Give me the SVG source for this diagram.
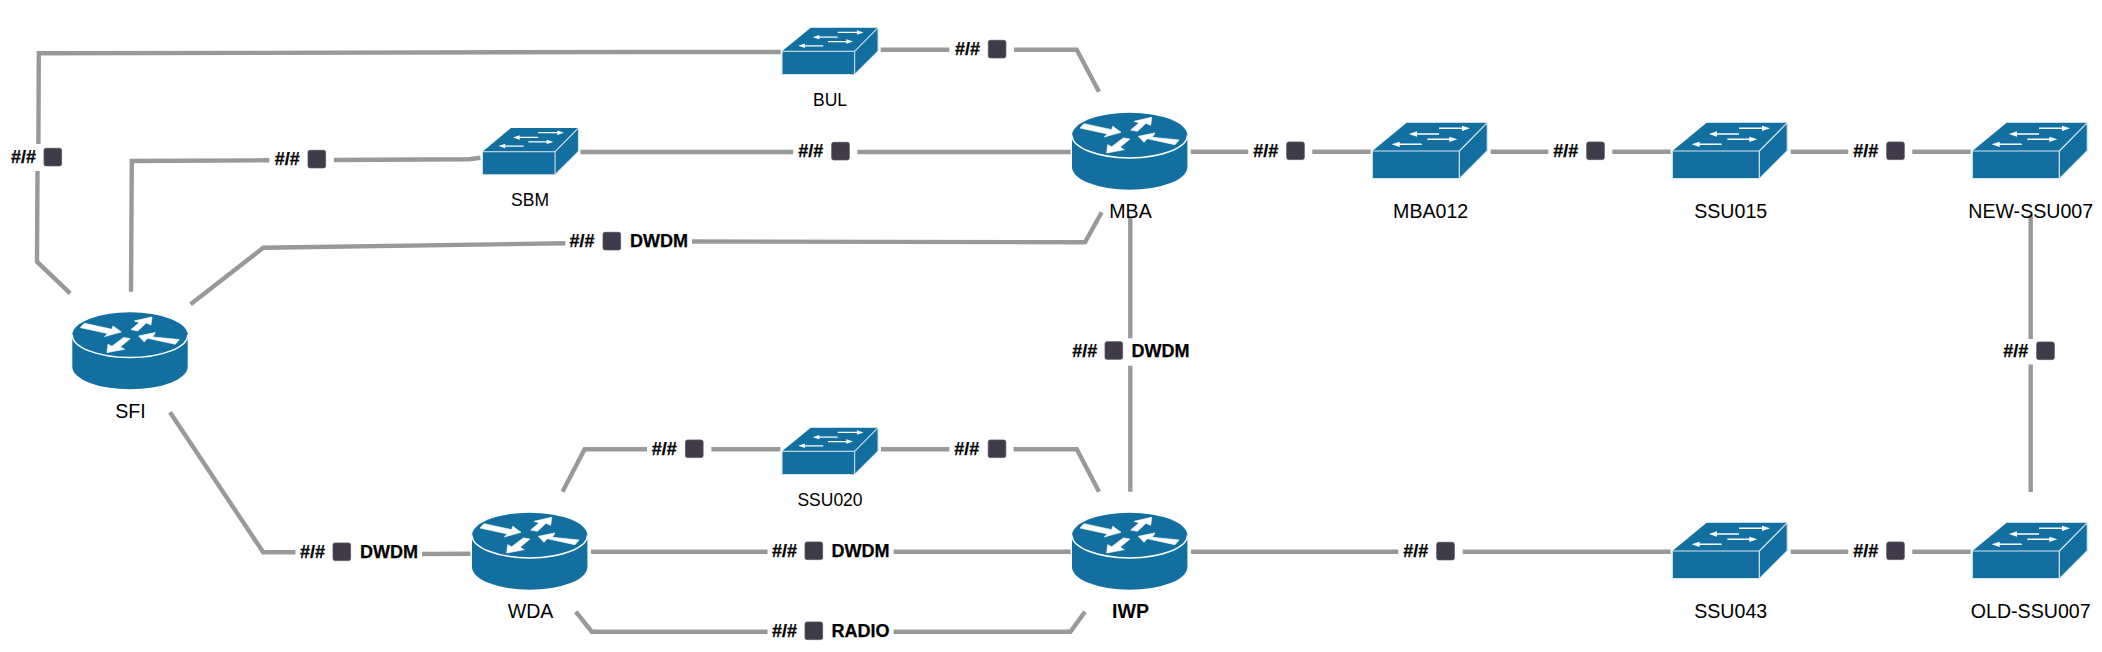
<svg xmlns="http://www.w3.org/2000/svg" xmlns:xlink="http://www.w3.org/1999/xlink" width="2102" height="652" viewBox="0 0 2102 652">
<style>
text{font-family:"Liberation Sans",Arial,sans-serif;fill:#000}
.n{font-size:19.6px;text-anchor:middle}
.s{font-size:17.5px;text-anchor:middle}
.b{font-weight:700}
.l{font-size:18px;font-weight:700;stroke:#000;stroke-width:.25}
#connectors path{fill:none;stroke:#999;stroke-width:4.4}
.sq{fill:#3f3b4a;stroke:#55515e;stroke-width:.8}
.body{fill:#126f9f}
.edge{fill:none;stroke:#d6e6ef;stroke-width:3.6}
.rim{fill:none;stroke:#fff;stroke-width:1.5}
.ar{fill:#fff;stroke:#fff;stroke-width:2;stroke-linejoin:round}
.ah{fill:#fff;stroke:none}
.al{fill:none;stroke:#fff;stroke-width:4.5}
</style>
<defs>
<g id="router">
<path class="body" d="M0 22.6A57.7 22.6 0 0 1 115.4 22.6V54.4A57.7 22.6 0 0 1 0 54.4Z"/>
<path class="rim" d="M0 22.6A57.7 22.6 0 0 0 115.4 22.6"/>
<g transform="translate(-7,-4.7) scale(.3333)">
<path class="ar" d="M45 60L57 47L140 65L143 55L168 73L118 87L127 78Z"/>
<path class="ar" d="M197 66L222 45L207 40L260 28L257 52L243 46L217 70Z"/>
<path class="ar" d="M342 96L330 110L247 92L237 103L220 85L270 75L262 88Z"/>
<path class="ar" d="M175 90L195 93L165 118L178 125L125 135L128 110L140 116Z"/>
</g>
</g>
<g id="switch">
<g transform="translate(-32.3,-12.7) scale(.3333)">
<path class="body" d="M200 38H442L358 123H97Z"/>
<path class="body" d="M442 38V122L358 206V123Z"/>
<rect class="body" x="97" y="123" width="261" height="83"/>
<path class="edge" d="M97 123H358V206H97ZM358 123L442 38M358 206L442 122V38"/>
<path class="al" d="M297 55H372M297 72H225M262 88H334M245 103H173"/>
<path class="ah" d="M390 55L366 47V63ZM207 72L231 64V80ZM352 88L328 80V96ZM155 103L179 95V111Z"/>
</g>
</g>
</defs>
<rect width="2102" height="652" fill="#fff"/>
<g id="connectors">
<path id="c-sfi-bul" d="M70.2 293.3L37 261.7L37.5 171M38.4 144L38.8 53.3L640 52L780.7 52"/>
<path id="c-bul-mba" d="M880.7 49.7H949.3M1014 49.7H1076.7L1099 91.7"/>
<path id="c-sfi-sbm" d="M131 291.7L131.8 161L269.4 160.3M333.9 160L469.4 159.3L480.4 157.7"/>
<path id="c-sbm-mba" d="M580.4 152H793.3M857.3 152H1070.7"/>
<path id="c-mba-mba012" d="M1190.7 151.7H1248.3M1312.3 151.7H1370.7"/>
<path id="c-mba012-ssu015" d="M1490.7 151.7H1548.3M1612.3 151.7H1670.7"/>
<path id="c-ssu015-new" d="M1790.7 151.7H1848.3M1912.3 151.7H1970.7"/>
<path id="c-sfi-mba" d="M190.6 304.3L263.3 247.7L565.3 243.3M692 241.5L1085 242.3L1101.7 212.3"/>
<path id="c-mba-iwp" d="M1130.3 218V338.3M1130.3 365.7V491.7"/>
<path id="c-sfi-wda" d="M170 412.3L263.2 552.3H295.4M422 554L470.4 553.7"/>
<path id="c-wda-ssu020" d="M562.5 491.7L584.6 449.3H647M711.4 449.3H780.4"/>
<path id="c-ssu020-iwp" d="M881 449.3H949.3M1013.6 449.3H1076.8L1099 491.7"/>
<path id="c-wda-iwp" d="M591 551.7H767.5M893.6 551.7H1070.7"/>
<path id="c-wda-iwp-radio" d="M575.7 611.7L591.8 631.7H767.5M893.6 631.7H1070.4L1085 611.7"/>
<path id="c-iwp-ssu043" d="M1191 551.7H1398.3M1462.7 551.7H1670.7"/>
<path id="c-ssu043-old" d="M1790.7 551.7H1848.3M1912.3 551.7H1970.7"/>
<path id="c-new-old" d="M2030.7 215V339M2030.7 364.5V492"/>
</g>
<g id="labels">
<g><text class="l" x="11" y="163">#/#</text><rect class="sq" x="44" y="148.3" width="17.6" height="17.6" rx="2"/></g>
<g><text class="l" x="955" y="55">#/#</text><rect class="sq" x="988.3" y="40.3" width="17.6" height="17.6" rx="2"/></g>
<g><text class="l" x="274.7" y="165">#/#</text><rect class="sq" x="308" y="150.3" width="17.6" height="17.6" rx="2"/></g>
<g><text class="l" x="798.3" y="157">#/#</text><rect class="sq" x="831.7" y="142.3" width="17.6" height="17.6" rx="2"/></g>
<g><text class="l" x="1253.3" y="156.7">#/#</text><rect class="sq" x="1286.7" y="142" width="17.6" height="17.6" rx="2"/></g>
<g><text class="l" x="1553.3" y="156.7">#/#</text><rect class="sq" x="1586.7" y="142" width="17.6" height="17.6" rx="2"/></g>
<g><text class="l" x="1853.3" y="156.7">#/#</text><rect class="sq" x="1886.7" y="142" width="17.6" height="17.6" rx="2"/></g>
<g><text class="l" x="569.4" y="247">#/#</text><rect class="sq" x="603" y="232.3" width="17.6" height="17.6" rx="2"/><text class="l" x="630" y="247">DWDM</text></g>
<g><text class="l" x="1072.3" y="356.5">#/#</text><rect class="sq" x="1105" y="341.7" width="17.6" height="17.6" rx="2"/><text class="l" x="1131.5" y="356.5">DWDM</text></g>
<g><text class="l" x="300" y="557.7">#/#</text><rect class="sq" x="333" y="543" width="17.6" height="17.6" rx="2"/><text class="l" x="360" y="557.7">DWDM</text></g>
<g><text class="l" x="651.8" y="454.7">#/#</text><rect class="sq" x="685.5" y="440" width="17.6" height="17.6" rx="2"/></g>
<g><text class="l" x="954.3" y="454.7">#/#</text><rect class="sq" x="988.2" y="440" width="17.6" height="17.6" rx="2"/></g>
<g><text class="l" x="772" y="556.7">#/#</text><rect class="sq" x="805" y="542" width="17.6" height="17.6" rx="2"/><text class="l" x="831.5" y="556.7">DWDM</text></g>
<g><text class="l" x="772" y="636.7">#/#</text><rect class="sq" x="805" y="622" width="17.6" height="17.6" rx="2"/><text class="l" x="831.5" y="636.7">RADIO</text></g>
<g><text class="l" x="1403.3" y="557">#/#</text><rect class="sq" x="1436.7" y="542.3" width="17.6" height="17.6" rx="2"/></g>
<g><text class="l" x="1853.3" y="556.7">#/#</text><rect class="sq" x="1886.7" y="542" width="17.6" height="17.6" rx="2"/></g>
<g><text class="l" x="2003.3" y="356.5">#/#</text><rect class="sq" x="2036.7" y="342" width="17.6" height="17.6" rx="2"/></g>
</g>
<g id="SFI"><use href="#router" x="72.3" y="312.3"/><text class="n" x="130.5" y="417.5">SFI</text></g>
<g id="MBA"><use href="#router" x="1072" y="112.7"/><text class="n" x="1130.5" y="217.7">MBA</text></g>
<g id="WDA"><use href="#router" x="472" y="512.7"/><text class="n" x="530.5" y="618">WDA</text></g>
<g id="IWP"><use href="#router" x="1072" y="512.7"/><text class="n b" x="1130.5" y="618">IWP</text></g>
<g id="BUL"><use href="#switch" transform="translate(782,27.7) scale(.835)"/><text class="s" x="830" y="105.7">BUL</text></g>
<g id="SBM"><use href="#switch" transform="translate(482.4,128) scale(.835)"/><text class="s" x="530" y="205.7">SBM</text></g>
<g id="SSU020"><use href="#switch" transform="translate(782,427.7) scale(.835)"/><text class="s" x="830" y="506">SSU020</text></g>
<g id="MBA012"><use href="#switch" transform="translate(1372.3,122.7)"/><text class="n" x="1430.7" y="217.7">MBA012</text></g>
<g id="SSU015"><use href="#switch" transform="translate(1672.3,122.7)"/><text class="n" x="1730.7" y="217.7">SSU015</text></g>
<g id="NEW-SSU007"><use href="#switch" transform="translate(1972.3,122.7)"/><text class="n" x="2030.7" y="217.7">NEW-SSU007</text></g>
<g id="SSU043"><use href="#switch" transform="translate(1672.3,522.7)"/><text class="n" x="1730.7" y="617.7">SSU043</text></g>
<g id="OLD-SSU007"><use href="#switch" transform="translate(1972.3,522.7)"/><text class="n" x="2030.7" y="617.7">OLD-SSU007</text></g>
</svg>
